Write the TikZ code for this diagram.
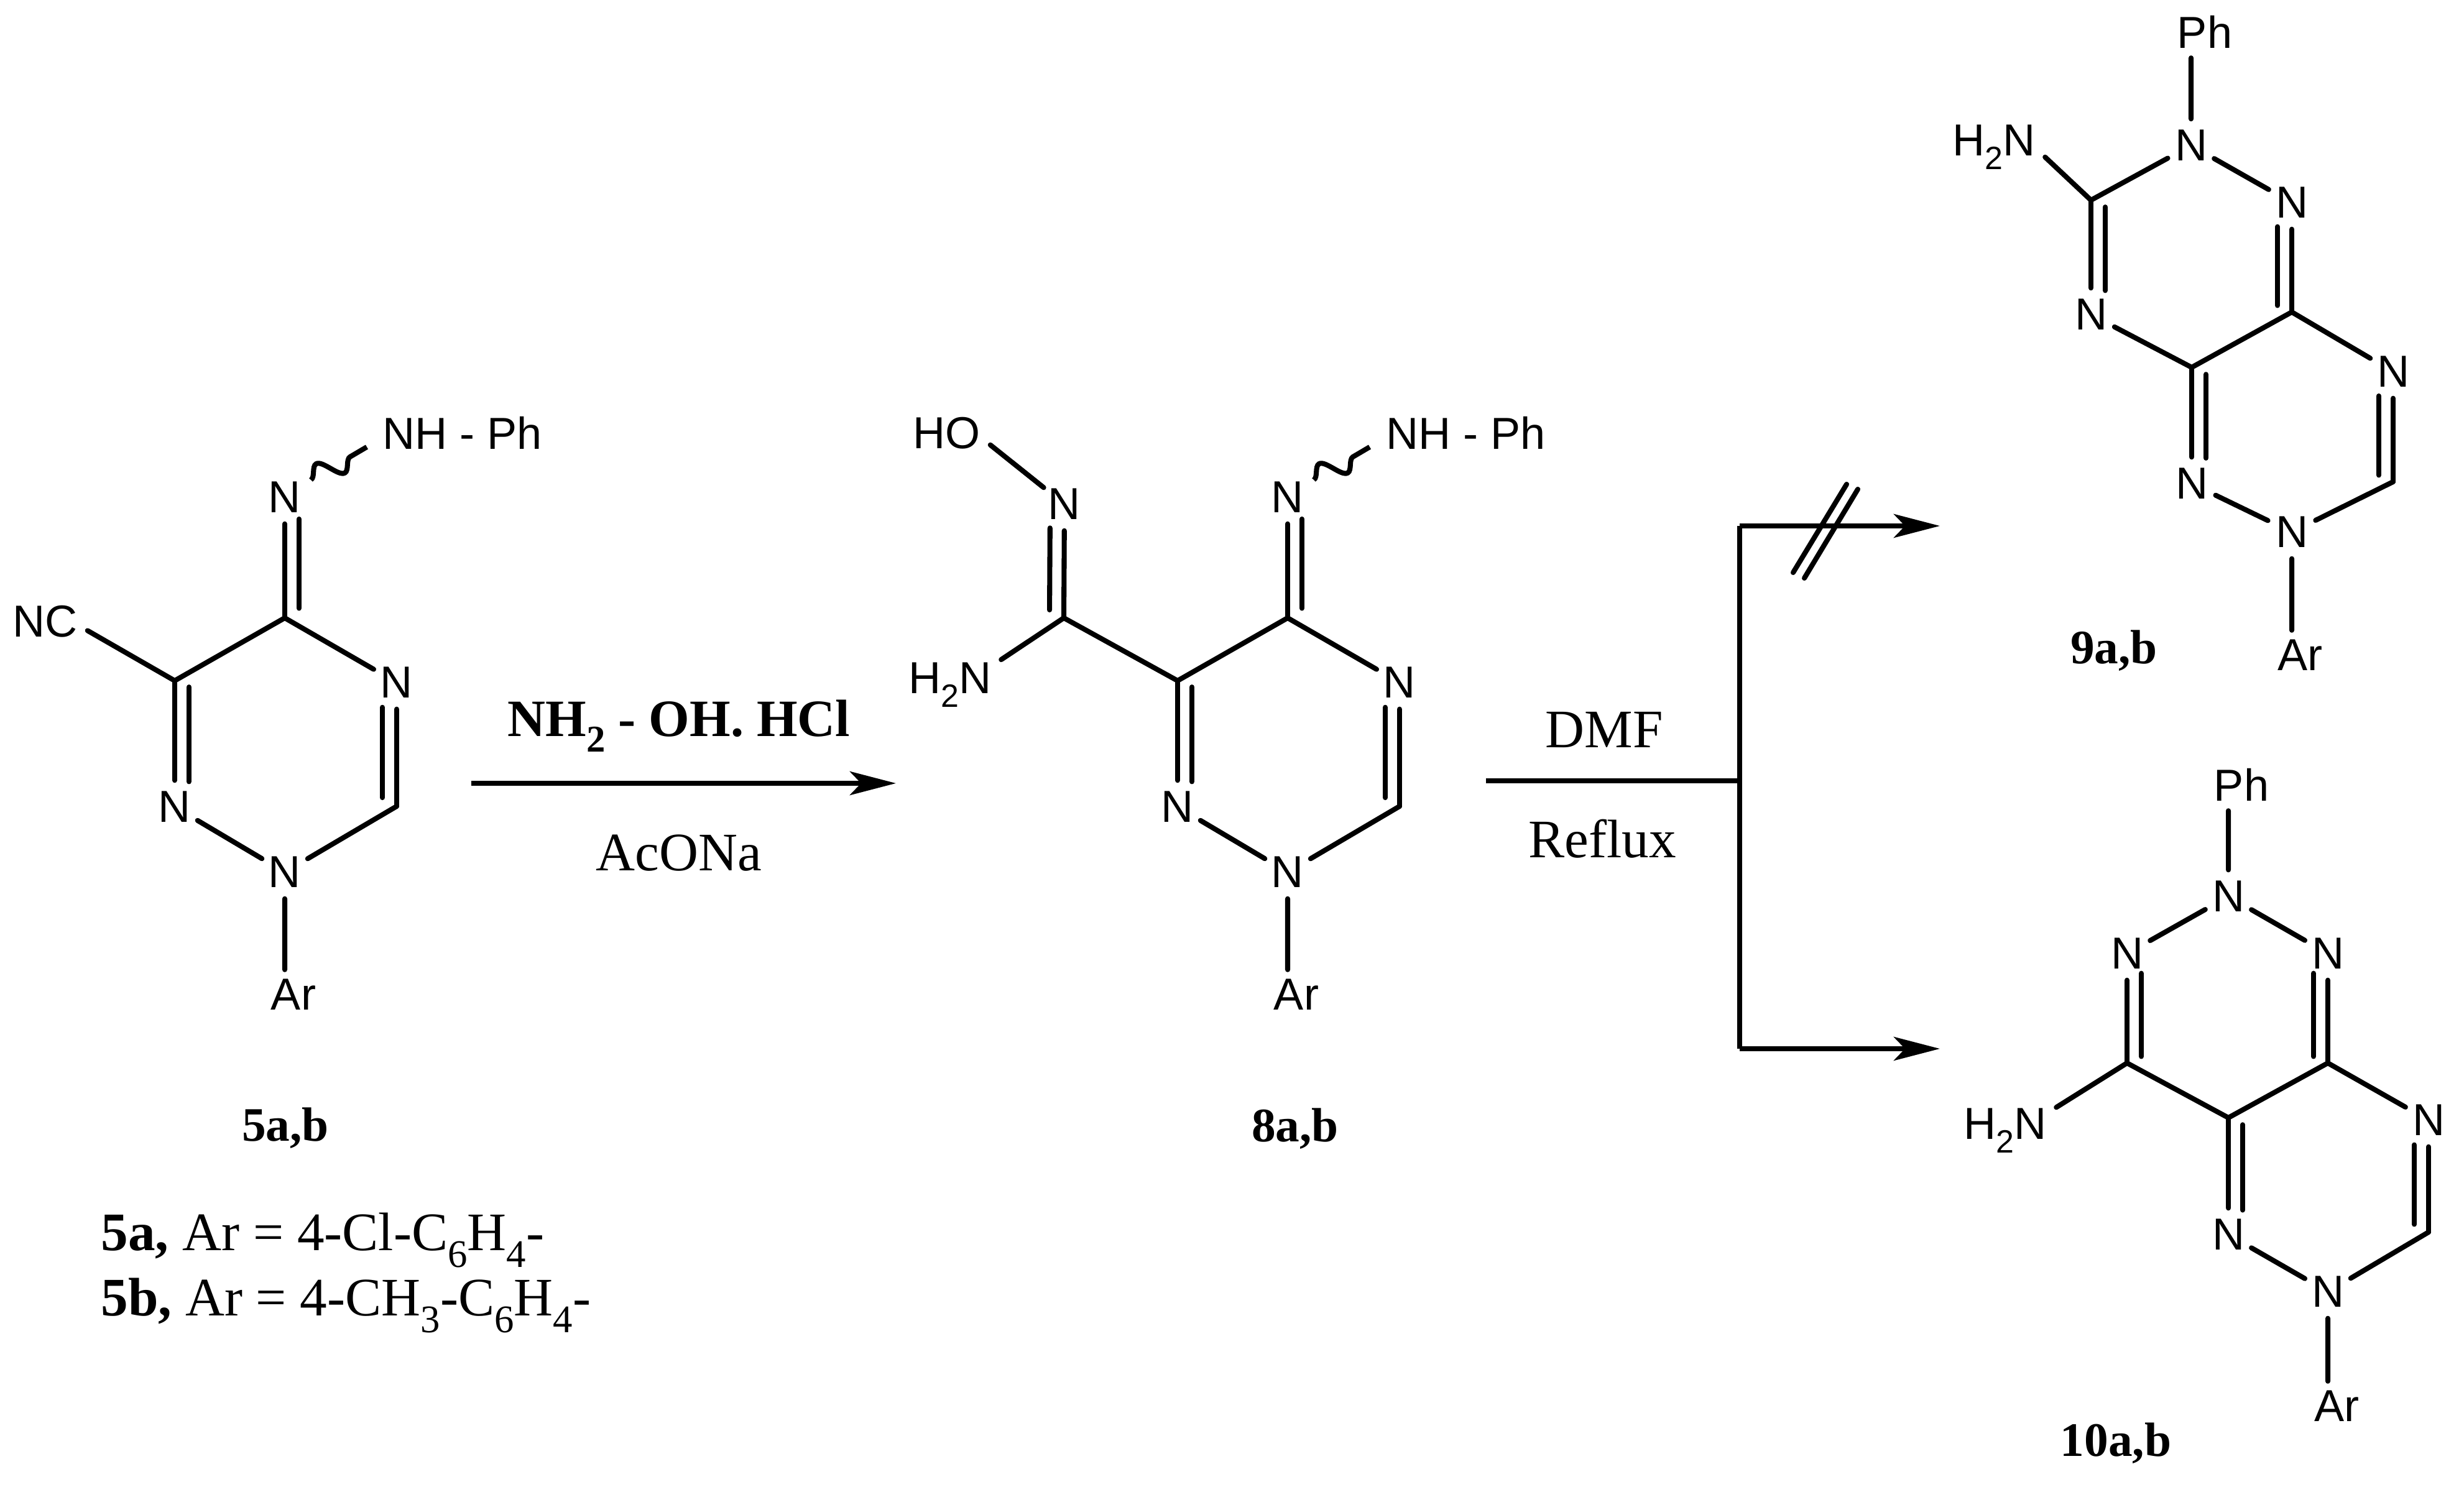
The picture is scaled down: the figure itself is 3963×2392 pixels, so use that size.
\documentclass[tikz,border=0pt]{standalone}
\usepackage{graphicx}
\usepackage{fontspec}
\setmainfont{Liberation Serif}
\newfontfamily\chemsans{Liberation Sans}
\usetikzlibrary{arrows.meta,calc,decorations.pathmorphing}
\newcommand\chsub[1]{\raisebox{-0.3em}{\scalebox{0.72}{#1}}}
\newcommand\dbl[5]{\draw[bond] (#1)--(#2); \draw[bond] ($(#1)!#4!(#2)!2.3mm!#3:(#2)$) -- ($(#1)!#5!(#2)!2.3mm!#3:(#2)$);}
\tikzset{
 atom/.style={circle,inner sep=0pt,minimum size=8.4mm,font=\chemsans\fontsize{20.5}{24}\selectfont},
 lbl/.style={inner sep=1.5mm,text height=4.9mm,text depth=0pt,font=\chemsans\fontsize{20.5}{24}\selectfont},
 bond/.style={line width=2.3pt,line cap=round},
 rxn/.style={line width=2.3pt},
 tip/.style={-{Stealth[length=7.4mm,width=3.8mm,inset=1.8mm]}},
 serif/.style={font=\fontsize{24.8}{28}\selectfont},
 cpd/.style={font=\bfseries\fontsize{22}{26}\selectfont},
 wave/.style={line width=2.3pt,decorate,decoration={snake,segment length=6.5mm,amplitude=1.8mm}}
}
\begin{document}
\begin{tikzpicture}[x=0.01cm,y=-0.01cm]
\useasboundingbox (0,0) rectangle (3963,2392);
% ---------- compound 5
\node[atom] (n5h) at (458,800) {N};
\coordinate (c5) at (458,994);
\node[atom] (n54) at (638,1098) {N};
\coordinate (c53) at (638,1297);
\node[atom] (n51) at (458,1403) {N};
\node[atom] (n52) at (281,1298) {N};
\coordinate (c56) at (281,1095);
\node[lbl] (nc) at (73,1000) {NC};
\node[lbl,anchor=west] (nhph5) at (600,698) {NH - Ph};
\node[lbl] (ar5) at (472,1600) {Ar};
\coordinate (w5a) at (500,772); \coordinate (w5b) at (590,719);
\dbl{c5}{n5h}{-90}{0.08}{0.82}
\draw[bond] (c5)--(n54);
\dbl{n54}{c53}{-90}{0.2}{0.93}
\draw[bond] (c53)--(n51) (n51)--(n52);
\dbl{c56}{n52}{90}{0.05}{0.8}
\draw[bond] (c56)--(c5) (nc.-12)--(c56) (n51)--(ar5.north -| n51);
\draw[wave] (w5a)--(w5b);
\node[cpd] (l5) at (459,1815) {5a,b};
\node[serif,anchor=west] (l5a) at (150,1995) {\textbf{5a,} Ar = 4-Cl-C\chsub{6}H\chsub{4}-};
\node[serif,anchor=west] (l5b) at (150,2100) {\textbf{5b,} Ar = 4-CH\chsub{3}-C\chsub{6}H\chsub{4}-};
% ---------- arrow 1
\coordinate (a1s) at (758,1260); \coordinate (a1e) at (1441,1260);
\draw[rxn,tip] (a1s)--(a1e);
\node[serif,font=\bfseries\fontsize{24}{28}\selectfont] (r1a) at (1092,1168) {NH\chsub{2} - OH. HCl};
\node[serif] (r1b) at (1092,1372) {AcONa};
% ---------- compound 8
\node[atom] (n8h) at (2071,800) {N};
\coordinate (c85) at (2071,994);
\node[atom] (n84) at (2251,1098) {N};
\coordinate (c83) at (2251,1297);
\node[atom] (n81) at (2071,1403) {N};
\node[atom] (n82) at (1894,1298) {N};
\coordinate (c86) at (1894,1095);
\node[lbl,anchor=west] (nhph8) at (2214,698) {NH - Ph};
\node[lbl] (ar8) at (2085,1600) {Ar};
\coordinate (w8a) at (2113,772); \coordinate (w8b) at (2203,719);
\coordinate (c8a) at (1711,994);
\node[atom] (n8ox) at (1712,811) {N};
\node[lbl] (ho) at (1523,697) {HO};
\node[lbl] (h2n8) at (1528,1091) {H\chsub{2}N};
\dbl{c85}{n8h}{-90}{0.08}{0.82}
\draw[bond] (c85)--(n84);
\dbl{n84}{c83}{-90}{0.2}{0.93}
\draw[bond] (c83)--(n81) (n81)--(n82);
\dbl{c86}{n82}{90}{0.05}{0.8}
\draw[bond] (c86)--(c85) (n81)--(ar8.north -| n81);
\draw[wave] (w8a)--(w8b);
\draw[bond] (ho.-15)--(n8ox) (h2n8.20)--(c8a) (c8a)--(c86);
\dbl{c8a}{n8ox}{90}{0.07}{0.79}
\node[cpd] (l8) at (2083,1816) {8a,b};
% ---------- arrow 2
\coordinate (a2s) at (2390,1256); \coordinate (a2m) at (2798,1256);
\coordinate (a2t) at (2798,846); \coordinate (a2b) at (2798,1687);
\coordinate (a2te) at (3120,846); \coordinate (a2be) at (3120,1687);
\draw[rxn] (a2s)--(a2m);
\draw[rxn] (a2t)--(a2b);
\draw[rxn,tip] (a2t)--(a2te);
\draw[rxn,tip] (a2b)--(a2be);
\coordinate (s1a) at (2884,921); \coordinate (s1b) at (2970,779);
\coordinate (s2a) at (2902,930); \coordinate (s2b) at (2988,787);
\draw[bond] (s1a)--(s1b) (s2a)--(s2b);
\node[serif] (r2a) at (2580,1174) {DMF};
\node[serif] (r2b) at (2577,1349) {Reflux};
% ---------- compound 9
\node[lbl] (ph9) at (3546,53) {Ph};
\node[atom] (n9a) at (3524,234) {N};
\node[atom] (n9b) at (3686,326) {N};
\coordinate (c9c) at (3686,502);
\coordinate (c9d) at (3525,591);
\node[atom] (n9e) at (3363,506) {N};
\coordinate (c9f) at (3363,322);
\node[lbl] (h2n9) at (3207,226) {H\chsub{2}N};
\node[atom] (n9g) at (3849,598) {N};
\coordinate (c9h) at (3849,775);
\node[atom] (n9i) at (3686,856) {N};
\node[atom] (n9j) at (3525,778) {N};
\node[lbl] (ar9) at (3699,1054) {Ar};
\draw[bond] (ph9.south -| n9a)--(n9a) (n9a)--(n9b) (n9a)--(c9f) (h2n9.-18)--(c9f);
\dbl{c9f}{n9e}{90}{0.06}{0.79}
\dbl{n9b}{c9c}{-90}{0.22}{0.94}
\draw[bond] (n9e)--(c9d) (c9d)--(c9c) (c9c)--(n9g);
\dbl{c9d}{n9j}{90}{0.06}{0.78}
\dbl{n9g}{c9h}{-90}{0.22}{0.94}
\draw[bond] (c9h)--(n9i) (n9i)--(n9j) (n9i)--(ar9.north -| n9i);
\node[cpd] (l9) at (3400,1047) {9a,b};
% ---------- compound 10
\node[lbl] (ph10) at (3605,1264) {Ph};
\node[atom] (n10a) at (3584,1442) {N};
\node[atom] (n10b) at (3421,1534) {N};
\node[atom] (n10c) at (3744,1534) {N};
\coordinate (c10d) at (3421,1710);
\coordinate (c10e) at (3744,1710);
\coordinate (c10f) at (3584,1798);
\node[lbl] (h2n10) at (3225,1808) {H\chsub{2}N};
\node[atom] (n10g) at (3906,1802) {N};
\coordinate (c10h) at (3906,1982);
\node[atom] (n10i) at (3744,2078) {N};
\node[atom] (n10j) at (3584,1986) {N};
\node[lbl] (ar10) at (3758,2262) {Ar};
\draw[bond] (ph10.south -| n10a)--(n10a) (n10a)--(n10b) (n10a)--(n10c) (h2n10.18)--(c10d);
\dbl{n10b}{c10d}{90}{0.18}{0.94}
\dbl{n10c}{c10e}{-90}{0.18}{0.94}
\draw[bond] (c10d)--(c10f) (c10f)--(c10e) (c10e)--(n10g);
\dbl{c10f}{n10j}{90}{0.06}{0.79}
\dbl{n10g}{c10h}{-90}{0.22}{0.93}
\draw[bond] (c10h)--(n10i) (n10i)--(n10j) (n10i)--(ar10.north -| n10i);
\node[cpd] (l10) at (3403,2322) {10a,b};
\end{tikzpicture}
\end{document}
